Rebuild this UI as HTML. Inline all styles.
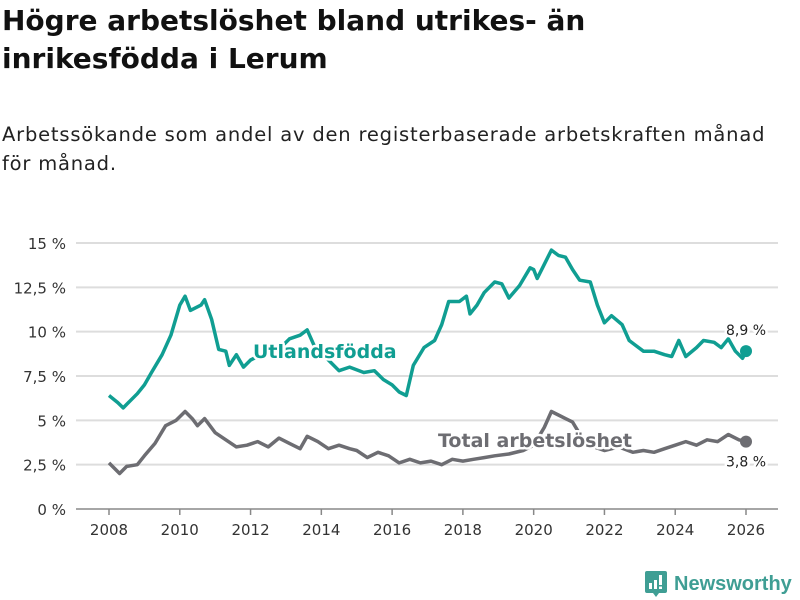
<!DOCTYPE html>
<html><head><meta charset="utf-8"><style>
body{margin:0;width:800px;height:600px;background:#fff;font-family:"DejaVu Sans","Liberation Sans",sans-serif;overflow:hidden;position:relative}
h1{position:absolute;left:2px;top:2px;margin:0;font-size:28px;line-height:38px;font-weight:bold;color:#111;width:790px}
p{position:absolute;left:2px;top:120px;margin:0;font-size:19.5px;line-height:29px;color:#222;width:798px;letter-spacing:0.8px}
svg{position:absolute;left:0;top:0}
</style></head><body>
<h1>Högre arbetslöshet bland utrikes- än<br>inrikesfödda i Lerum</h1>
<p>Arbetssökande som andel av den registerbaserade arbetskraften månad<br>för månad.</p>
<svg id="c" width="800" height="600"></svg>
<script>
const yTicks=[0,2.5,5,7.5,10,12.5,15];
const yTickLabels=["0 %","2,5 %","5 %","7,5 %","10 %","12,5 %","15 %"];
const xTicks=[2008,2010,2012,2014,2016,2018,2020,2022,2024,2026];
const fT=[2008.0,2008.25,2008.4,2008.6,2008.8,2009.0,2009.2,2009.5,2009.75,2010.0,2010.15,2010.3,2010.6,2010.7,2010.9,2011.1,2011.3,2011.4,2011.6,2011.8,2012.0,2012.3,2012.6,2012.9,2013.1,2013.4,2013.6,2013.8,2014.2,2014.5,2014.8,2015.2,2015.5,2015.75,2016.0,2016.2,2016.4,2016.6,2016.9,2017.2,2017.4,2017.6,2017.9,2018.1,2018.2,2018.4,2018.6,2018.9,2019.1,2019.3,2019.6,2019.9,2020.0,2020.1,2020.3,2020.5,2020.7,2020.9,2021.1,2021.3,2021.6,2021.8,2022.0,2022.2,2022.5,2022.7,2022.9,2023.1,2023.4,2023.7,2023.9,2024.1,2024.3,2024.6,2024.8,2025.1,2025.3,2025.5,2025.7,2025.9,2026.0];
const fV=[6.4,6.0,5.7,6.1,6.5,7.0,7.7,8.7,9.8,11.5,12.0,11.2,11.5,11.8,10.7,9.0,8.9,8.1,8.7,8.0,8.4,8.7,8.9,9.2,9.6,9.8,10.1,9.2,8.4,7.8,8.0,7.7,7.8,7.3,7.0,6.6,6.4,8.1,9.1,9.5,10.4,11.7,11.7,12.0,11.0,11.5,12.2,12.8,12.7,11.9,12.6,13.6,13.5,13.0,13.8,14.6,14.3,14.2,13.5,12.9,12.8,11.5,10.5,10.9,10.4,9.5,9.2,8.9,8.9,8.7,8.6,9.5,8.6,9.1,9.5,9.4,9.1,9.6,8.9,8.5,8.9];
const tT=[2008.0,2008.3,2008.5,2008.8,2009.0,2009.3,2009.6,2009.9,2010.15,2010.35,2010.5,2010.7,2011.0,2011.3,2011.6,2011.9,2012.2,2012.5,2012.8,2013.1,2013.4,2013.6,2013.9,2014.2,2014.5,2014.8,2015.0,2015.3,2015.6,2015.9,2016.2,2016.5,2016.8,2017.1,2017.4,2017.7,2018.0,2018.3,2018.6,2018.9,2019.3,2019.7,2020.0,2020.3,2020.5,2020.7,2020.9,2021.1,2021.4,2021.7,2022.0,2022.4,2022.8,2023.1,2023.4,2023.7,2024.0,2024.3,2024.6,2024.9,2025.2,2025.5,2025.8,2026.0];
const tV=[2.6,2.0,2.4,2.5,3.0,3.7,4.7,5.0,5.5,5.1,4.7,5.1,4.3,3.9,3.5,3.6,3.8,3.5,4.0,3.7,3.4,4.1,3.8,3.4,3.6,3.4,3.3,2.9,3.2,3.0,2.6,2.8,2.6,2.7,2.5,2.8,2.7,2.8,2.9,3.0,3.1,3.3,3.6,4.6,5.5,5.3,5.1,4.9,3.9,3.5,3.3,3.5,3.2,3.3,3.2,3.4,3.6,3.8,3.6,3.9,3.8,4.2,3.9,3.8];
const lastF="8,9 %", lastT="3,8 %";
const NS="http://www.w3.org/2000/svg";
const svg=document.getElementById('c');
const X=t=>109+(t-2008)*(746-109)/18;
const Y=v=>509-v*(509-243)/15;
function mk(tag,a){const e=document.createElementNS(NS,tag);for(const k in a)e.setAttribute(k,a[k]);svg.appendChild(e);return e;}
yTicks.forEach((v,i)=>{
 const g=mk('line',{x1:76,x2:778,y1:Y(v),y2:Y(v),stroke:i==0?'#888':'#ddd','stroke-width':i==0?1.5:2});
 
 
 const t=mk('text',{x:66,y:Y(v)+6,'text-anchor':'end','font-size':15,fill:'#333'});t.textContent=yTickLabels[i];
 
 
});
xTicks.forEach(v=>{
 const l=mk('line',{x1:X(v),x2:X(v),y1:509,y2:515,stroke:'#888','stroke-width':1.5});
 
 
 const t=mk('text',{x:X(v),y:535,'text-anchor':'middle','font-size':15,fill:'#333'});t.textContent=v;
 
 
});
function line(T,V,c,name){
 const d=T.map((t,i)=>(i?'L':'M')+X(t).toFixed(1)+','+Y(V[i]).toFixed(1)).join('');
 const p=mk('path',{d,fill:'none',stroke:c,'stroke-width':3.5,'stroke-linejoin':'round'});
 
 
 const n=T.length-1;
 const ci=mk('circle',{cx:X(T[n]),cy:Y(V[n]),r:6,fill:c});
 
 
}
line(tT,tV,'#6d6d72','total');
line(fT,fV,'#109e92','foreign');
function lab(x,y,s,txt,c,w,anchor,name){
 const t=mk('text',{x,y,'font-size':s,fill:c,'font-weight':w,'text-anchor':anchor,stroke:'#fff','stroke-width':5,'paint-order':'stroke','stroke-linejoin':'round'});
 t.textContent=txt;
 
 
}
lab(253,358,19,'Utlandsfödda','#109e92','bold','start','foreign-series-label');
lab(438,447,19,'Total arbetslöshet','#6d6d72','bold','start','total-series-label');
const n=fT.length-1,m=tT.length-1;
lab(X(fT[n]),Y(fV[n])-16,14,lastF,'#222','normal','middle','foreign-last-value');
lab(X(tT[m]),Y(tV[m])+25,14,lastT,'#222','normal','middle','total-last-value');
</script>
<div style="position:absolute;left:645px;top:571px;display:flex;align-items:center">
<svg width="22" height="26" viewBox="0 0 22 26" style="position:static"><path d="M2 0h18a2 2 0 0 1 2 2v18a2 2 0 0 1-2 2h-6l-3 4-3-4H2a2 2 0 0 1-2-2V2a2 2 0 0 1 2-2z" fill="#3f9e94"/><rect x="4" y="12" width="3" height="6" fill="#fff"/><rect x="9" y="9" width="3" height="9" fill="#fff"/><rect x="14" y="4" width="3" height="10" fill="#fff"/><rect x="14" y="15.5" width="3" height="2.5" fill="#fff"/></svg>
<span style="font-size:20px;color:#3f9e94;margin-left:7px;font-family:'Liberation Sans',sans-serif;font-weight:bold">Newsworthy</span></div>
</body></html>
